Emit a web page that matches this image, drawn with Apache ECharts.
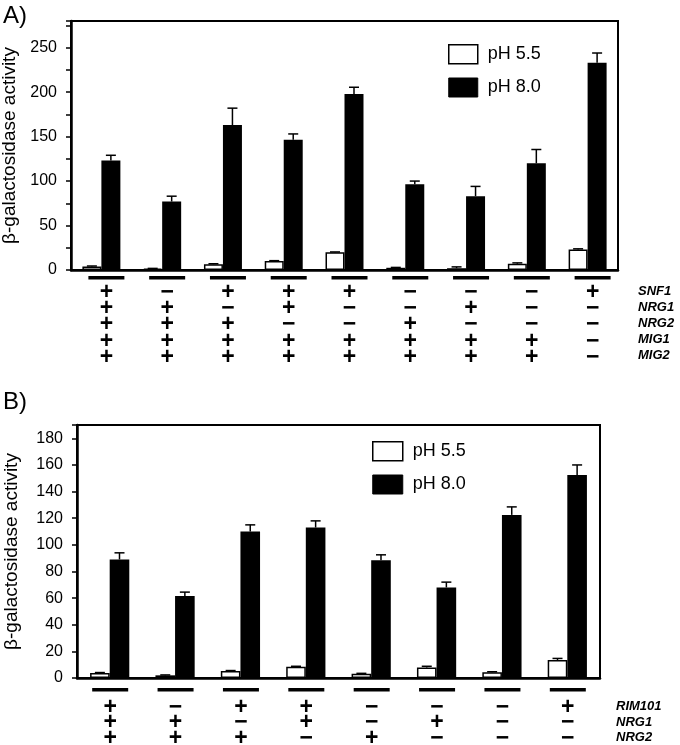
<!DOCTYPE html>
<html><head><meta charset="utf-8">
<script src="https://cdn.jsdelivr.net/npm/echarts@6/dist/echarts.min.js"></script>
<style>html,body{margin:0;padding:0;background:#fff}#c{width:680px;height:745px}</style>
</head><body><div id="c"></div>
<script>
// ---------- Panel A data ----------
const genesA = ['SNF1', 'NRG1', 'NRG2', 'MIG1', 'MIG2'];
const genotypesA = ['+++++', '−++++', '+−+++', '++−++', '+−−++', '−−+++', '−+−++', '−−−++', '+−−−−'];
const ph55A = [4, 1.5, 6.5, 10, 20, 2.5, 2, 7, 23];
const ph55ErrA = [0.5, 0.3, 0.5, 0.5, 0.3, 0.4, 1.5, 1, 0.8];
const ph80A = [123, 77, 163, 146.5, 198, 96.5, 83, 120, 233];
const ph80ErrA = [6, 6, 19, 6.5, 7.5, 3.5, 11, 15.5, 11];
const yLabelsA = [0, 50, 100, 150, 200, 250];

// ---------- Panel B data ----------
const genesB = ['RIM101', 'NRG1', 'NRG2'];
const genotypesB = ['+++', '−++', '+−+', '++−', '−−+', '−+−', '−−−', '+−−'];
const ph55B = [3.8, 2, 5.3, 8.5, 3.2, 7.8, 4.4, 13.5];
const ph55ErrB = [0.3, 0.3, 0.3, 0.3, 0.3, 1, 0.3, 1.2];
const ph80B = [89, 61.5, 110, 113, 88.5, 68, 122.5, 152.5];
const ph80ErrB = [5, 3, 5, 5, 4, 4, 6, 7.5];
const yLabelsB = [0, 20, 40, 60, 80, 100, 120, 140, 160, 180];

const seriesNames = ['pH 5.5', 'pH 8.0'];
const yName = 'β-galactosidase activity';

const FONT = '"Liberation Sans", Arial, sans-serif';
const chart = echarts.init(document.getElementById('c'), null, {renderer: 'canvas'});

function errSeries(vals, errs, xi, yi, side, ratio) {
  return {
    type: 'custom', xAxisIndex: xi, yAxisIndex: yi, z: 5, silent: true,
    data: vals.map((v, i) => [i, v, errs[i]]),
    encode: {x: 0, y: 1},
    renderItem(params, api) {
      const i = api.value(0), v = api.value(1), e = api.value(2);
      const band = api.size([1, 0])[0];
      const w = band * ratio;
      const base = api.coord([i, v]);
      const top = api.coord([i, v + e]);
      const x = base[0] + side * w / 2;
      const cap = 5;
      return {type: 'group', children: [
        {type: 'line', shape: {x1: x, y1: base[1], x2: x, y2: top[1]}, style: {stroke: '#000', lineWidth: 1.5}},
        {type: 'line', shape: {x1: x - cap, y1: top[1], x2: x + cap, y2: top[1]}, style: {stroke: '#000', lineWidth: 1.5}}
      ]};
    }
  };
}

function valueAxis(grid, max, interval, labels, nameGap) {
  return {
    type: 'value', gridIndex: grid, min: 0, max: max, interval: interval,
    name: yName, nameLocation: 'middle', nameGap: nameGap,
    nameTextStyle: {fontSize: 19, color: '#000', fontFamily: FONT},
    axisLine: {show: true, lineStyle: {color: '#000', width: 2.5}},
    axisTick: {show: true, length: 5, lineStyle: {color: '#000', width: 1.5}},
    axisLabel: {fontSize: 16, color: '#000', fontFamily: FONT, margin: 14,
      formatter: v => labels.includes(v) ? String(v) : ''},
    splitLine: {show: false}
  };
}
function hiddenY(grid) {
  return {type: 'value', gridIndex: grid, show: false};
}
function barX(grid, cats) {
  return {type: 'category', gridIndex: grid, data: cats, position: 'bottom',
    axisLine: {lineStyle: {color: '#000', width: 2.5}},
    axisTick: {show: false}, axisLabel: {show: false}};
}
function underlineX(grid, cats, margin, w) {
  return {type: 'category', gridIndex: grid, data: cats, position: 'bottom',
    axisLine: {show: false}, axisTick: {show: false},
    axisLabel: {margin: margin, interval: 0, formatter: () => '{u| }',
      rich: {u: {width: w, height: 3.5, lineHeight: 3.5, fontSize: 2, backgroundColor: '#000'}}}};
}
function symbolX(grid, cats, margin, lh) {
  return {type: 'category', gridIndex: grid, data: cats, position: 'bottom',
    axisLine: {show: false}, axisTick: {show: false},
    axisLabel: {margin: margin, interval: 0, verticalAlign: 'top',
      formatter: v => Array.from(v).map(s => '{s|' + s + '}').join('\n'),
      rich: {s: {fontSize: 23, fontWeight: 'bold', lineHeight: lh, color: '#000', fontFamily: FONT}}}};
}

const legendCommon = {
  orient: 'vertical', padding: 0, itemGap: 13, icon: 'rect', itemHeight: 19,
  textStyle: {fontSize: 18, color: '#000', fontFamily: FONT, padding: [0, 0, 0, 5]},
  data: [
    {name: seriesNames[0], itemStyle: {color: '#fff', borderColor: '#000', borderWidth: 1.5}},
    {name: seriesNames[1], itemStyle: {color: '#000', borderColor: '#000', borderWidth: 1}}
  ]
};

const graphics = [];
graphics.push({type: 'text', x: 3, y: 16, style: {text: 'A)', fontSize: 24, fontFamily: FONT, fill: '#000', verticalAlign: 'middle'}});
graphics.push({type: 'text', x: 3, y: 402, style: {text: 'B)', fontSize: 24, fontFamily: FONT, fill: '#000', verticalAlign: 'middle'}});
genesA.forEach((g, k) => graphics.push({type: 'text', x: 638, y: 291 + k * 16.2,
  style: {text: g, font: 'italic bold 13px ' + FONT, fill: '#000', verticalAlign: 'middle'}}));
genesB.forEach((g, k) => graphics.push({type: 'text', x: 616, y: 706.7 + k * 15.5,
  style: {text: g, font: 'italic bold 13px ' + FONT, fill: '#000', verticalAlign: 'middle'}}));

const ratioA = 0.3125, ratioB = 0.30;
const gridBase = {outerBoundsMode: 'none', containLabel: false};
const option = {
  animation: false,
  backgroundColor: '#fff',
  textStyle: {fontFamily: FONT},
  grid: [
    Object.assign({left: 71, top: 21, width: 547, height: 249, show: true, borderColor: '#000', borderWidth: 2}, gridBase),
    Object.assign({left: 76, top: 269, width: 547, height: 1}, gridBase),
    Object.assign({left: 77, top: 425, width: 523, height: 253, show: true, borderColor: '#000', borderWidth: 2}, gridBase),
    Object.assign({left: 77.5, top: 677, width: 523, height: 1}, gridBase)
  ],
  xAxis: [
    barX(0, genotypesA),
    underlineX(1, genotypesA, 6, 36),
    symbolX(1, genotypesA, 14.5, 16.2),
    barX(2, genotypesB),
    underlineX(3, genotypesB, 10, 36),
    symbolX(3, genotypesB, 21.5, 15.5)
  ],
  yAxis: [
    valueAxis(0, 280, 25, yLabelsA, 50),
    hiddenY(1),
    valueAxis(2, 190, 20, yLabelsB, 56),
    hiddenY(3)
  ],
  legend: [
    Object.assign({}, legendCommon, {left: 448, top: 44, itemWidth: 29}),
    Object.assign({}, legendCommon, {left: 372, top: 441, itemWidth: 30})
  ],
  series: [
    {name: seriesNames[0], type: 'bar', xAxisIndex: 0, yAxisIndex: 0, data: ph55A, barWidth: (ratioA * 100) + '%', barGap: '0%',
      itemStyle: {color: '#fff', borderColor: '#000', borderWidth: 1.5}},
    {name: seriesNames[1], type: 'bar', xAxisIndex: 0, yAxisIndex: 0, data: ph80A, barWidth: (ratioA * 100) + '%', barGap: '0%',
      itemStyle: {color: '#000'}},
    errSeries(ph55A, ph55ErrA, 0, 0, -1, ratioA),
    errSeries(ph80A, ph80ErrA, 0, 0, 1, ratioA),
    {name: seriesNames[0], type: 'bar', xAxisIndex: 3, yAxisIndex: 2, data: ph55B, barWidth: (ratioB * 100) + '%', barGap: '0%',
      itemStyle: {color: '#fff', borderColor: '#000', borderWidth: 1.5}},
    {name: seriesNames[1], type: 'bar', xAxisIndex: 3, yAxisIndex: 2, data: ph80B, barWidth: (ratioB * 100) + '%', barGap: '0%',
      itemStyle: {color: '#000'}},
    errSeries(ph55B, ph55ErrB, 3, 2, -1, ratioB),
    errSeries(ph80B, ph80ErrB, 3, 2, 1, ratioB)
  ],
  graphic: graphics
};
chart.setOption(option);
</script></body></html>
